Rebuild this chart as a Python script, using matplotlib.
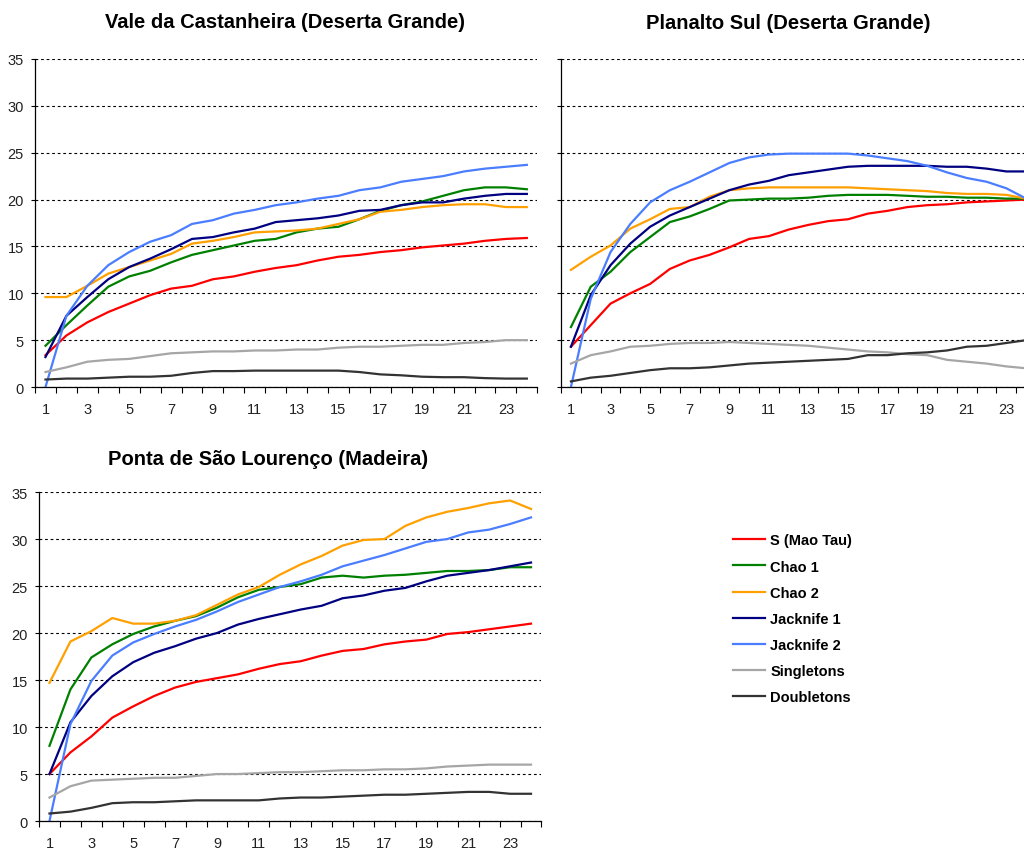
import numpy as np
import matplotlib.pyplot as plt

plt.rcParams['font.family'] = ['Liberation Sans', 'DejaVu Sans']

samples = np.arange(1, 25)

series_names = ["S (Mao Tau)", "Chao 1", "Chao 2", "Jacknife 1", "Jacknife 2",
                "Singletons", "Doubletons"]
series_colors = ["#ff0000", "#008000", "#ffa000", "#000080", "#4a7dff",
                 "#a6a6a6", "#333333"]

# Vale da Castanheira (Deserta Grande)
vc_s = [3.4, 5.5, 6.9, 8.0, 8.9, 9.8, 10.5, 10.8, 11.5, 11.8, 12.3, 12.7,
        13.0, 13.5, 13.9, 14.1, 14.4, 14.6, 14.9, 15.1, 15.3, 15.6, 15.8, 15.9]
vc_chao1 = [4.4, 6.6, 8.7, 10.7, 11.8, 12.4, 13.3, 14.1, 14.6, 15.1, 15.6, 15.8,
            16.5, 16.9, 17.1, 17.9, 18.8, 19.4, 19.8, 20.4, 21.0, 21.3, 21.3, 21.1]
vc_chao2 = [9.6, 9.6, 10.8, 12.1, 12.8, 13.5, 14.2, 15.3, 15.6, 16.0, 16.5, 16.6,
            16.7, 16.9, 17.4, 17.9, 18.7, 18.9, 19.2, 19.4, 19.5, 19.5, 19.2, 19.2]
vc_jack1 = [3.2, 7.6, 9.6, 11.5, 12.8, 13.7, 14.7, 15.8, 16.0, 16.5, 16.9, 17.6,
            17.8, 18.0, 18.3, 18.8, 18.9, 19.4, 19.7, 19.7, 20.1, 20.4, 20.6, 20.6]
vc_jack2 = [0.0, 7.6, 10.8, 13.0, 14.4, 15.5, 16.2, 17.4, 17.8, 18.5, 18.9, 19.4,
            19.7, 20.1, 20.4, 21.0, 21.3, 21.9, 22.2, 22.5, 23.0, 23.3, 23.5, 23.7]
vc_single = [1.6, 2.1, 2.7, 2.9, 3.0, 3.3, 3.6, 3.7, 3.8, 3.8, 3.9, 3.9,
             4.0, 4.0, 4.2, 4.3, 4.3, 4.4, 4.5, 4.5, 4.7, 4.8, 5.0, 5.0]
vc_double = [0.8, 0.9, 0.9, 1.0, 1.1, 1.1, 1.2, 1.5, 1.7, 1.7, 1.75, 1.75,
             1.75, 1.75, 1.75, 1.6, 1.35, 1.25, 1.1, 1.05, 1.05, 0.95, 0.9, 0.9]

# Planalto Sul (Deserta Grande)
ps_s = [4.3, 6.6, 8.9, 10.0, 11.0, 12.6, 13.5, 14.1, 14.9, 15.8, 16.1, 16.8,
        17.3, 17.7, 17.9, 18.5, 18.8, 19.2, 19.4, 19.5, 19.7, 19.8, 19.9, 20.0]
ps_chao1 = [6.4, 10.7, 12.3, 14.4, 16.0, 17.6, 18.2, 19.0, 19.9, 20.0, 20.1, 20.1,
            20.2, 20.4, 20.5, 20.5, 20.5, 20.4, 20.3, 20.3, 20.2, 20.2, 20.1, 20.1]
ps_chao2 = [12.5, 13.9, 15.1, 16.9, 17.9, 19.0, 19.2, 20.3, 21.0, 21.2, 21.3, 21.3,
            21.3, 21.3, 21.3, 21.2, 21.1, 21.0, 20.9, 20.7, 20.6, 20.6, 20.5, 20.1]
ps_jack1 = [4.3, 9.8, 13.0, 15.3, 17.1, 18.3, 19.2, 20.1, 21.0, 21.6, 22.0, 22.6,
            22.9, 23.2, 23.5, 23.6, 23.6, 23.6, 23.6, 23.5, 23.5, 23.3, 23.0, 23.0]
ps_jack2 = [0.0, 9.4, 14.4, 17.4, 19.7, 21.0, 21.9, 22.9, 23.9, 24.5, 24.8, 24.9,
            24.9, 24.9, 24.9, 24.7, 24.4, 24.1, 23.6, 22.9, 22.3, 21.9, 21.2, 20.1]
ps_single = [2.5, 3.4, 3.8, 4.3, 4.4, 4.6, 4.7, 4.7, 4.8, 4.7, 4.6, 4.5,
             4.4, 4.2, 4.0, 3.8, 3.7, 3.5, 3.4, 2.9, 2.7, 2.5, 2.2, 2.0]
ps_double = [0.6, 1.0, 1.2, 1.5, 1.8, 2.0, 2.0, 2.1, 2.3, 2.5, 2.6, 2.7,
             2.8, 2.9, 3.0, 3.4, 3.4, 3.6, 3.7, 3.9, 4.3, 4.4, 4.7, 5.0]

# Ponta de São Lourenço (Madeira)
sl_s = [5.0, 7.3, 9.0, 11.0, 12.2, 13.3, 14.2, 14.8, 15.2, 15.6, 16.2, 16.7,
        17.0, 17.6, 18.1, 18.3, 18.8, 19.1, 19.3, 19.9, 20.1, 20.4, 20.7, 21.0]
sl_chao1 = [8.0, 14.0, 17.4, 18.8, 19.9, 20.7, 21.3, 21.8, 22.7, 23.8, 24.6, 24.9,
            25.2, 25.9, 26.1, 25.9, 26.1, 26.2, 26.4, 26.6, 26.6, 26.7, 27.0, 27.0]
sl_chao2 = [14.7, 19.1, 20.2, 21.6, 21.0, 21.0, 21.3, 21.9, 23.0, 24.1, 24.9, 26.2,
            27.3, 28.2, 29.3, 29.9, 30.0, 31.4, 32.3, 32.9, 33.3, 33.8, 34.1, 33.2]
sl_jack1 = [5.0, 10.5, 13.3, 15.4, 16.9, 17.9, 18.6, 19.4, 20.0, 20.9, 21.5, 22.0,
            22.5, 22.9, 23.7, 24.0, 24.5, 24.8, 25.5, 26.1, 26.4, 26.7, 27.1, 27.5]
sl_jack2 = [0.0, 10.3, 14.9, 17.6, 19.0, 19.9, 20.7, 21.4, 22.3, 23.3, 24.1, 24.9,
            25.5, 26.2, 27.1, 27.7, 28.3, 29.0, 29.7, 30.0, 30.7, 31.0, 31.6, 32.3]
sl_single = [2.5, 3.7, 4.3, 4.4, 4.5, 4.6, 4.6, 4.8, 5.0, 5.0, 5.1, 5.2,
             5.2, 5.3, 5.4, 5.4, 5.5, 5.5, 5.6, 5.8, 5.9, 6.0, 6.0, 6.0]
sl_double = [0.8, 1.0, 1.4, 1.9, 2.0, 2.0, 2.1, 2.2, 2.2, 2.2, 2.2, 2.4,
             2.5, 2.5, 2.6, 2.7, 2.8, 2.8, 2.9, 3.0, 3.1, 3.1, 2.9, 2.9]

panels = [
    ("Vale da Castanheira (Deserta Grande)",
     [vc_s, vc_chao1, vc_chao2, vc_jack1, vc_jack2, vc_single, vc_double]),
    ("Planalto Sul (Deserta Grande)",
     [ps_s, ps_chao1, ps_chao2, ps_jack1, ps_jack2, ps_single, ps_double]),
    ("Ponta de São Lourenço (Madeira)",
     [sl_s, sl_chao1, sl_chao2, sl_jack1, sl_jack2, sl_single, sl_double]),
]

# axes boxes in figure fractions, title centres, whether y labels are drawn
boxes = [[0.0342, 0.5451, 0.4905, 0.3846],
         [0.5479, 0.5451, 0.4639, 0.3846],
         [0.0381, 0.0363, 0.4907, 0.3857]]
title_pos = [(0.2785, 0.974), (0.7695, 0.972), (0.2617, 0.461)]
show_ylabels = [True, False, True]

fig = plt.figure(figsize=(10.24, 8.53), dpi=100)

for (title, data), box, tpos, ylab in zip(panels, boxes, title_pos, show_ylabels):
    ax = fig.add_axes(box)
    for vals, name, col in zip(data, series_names, series_colors):
        ax.plot(samples, vals, color=col, lw=1.6, label=name)
    ax.set_xlim(0.5, 24.5)
    ax.set_ylim(0, 35)
    ax.set_yticks(np.arange(0, 36, 5))
    ax.set_xticks(samples[::2])
    ax.set_xticks(np.arange(0.5, 25, 1), minor=True)
    ax.tick_params(axis='x', which='major', length=0, pad=11, labelsize=10.5,
                   labelcolor='#222222')
    ax.tick_params(axis='x', which='minor', length=4, width=0.8, direction='out')
    ax.tick_params(axis='y', length=3, width=0.8, pad=5, labelsize=10.5,
                   labelcolor='#222222', labelleft=ylab)
    ax.yaxis.grid(True, color='black', linestyle=(0, (2.5, 2.5)), lw=0.8)
    ax.set_axisbelow(True)
    for side in ('top', 'right'):
        ax.spines[side].set_visible(False)
    for side in ('left', 'bottom'):
        ax.spines[side].set_linewidth(0.9)
    fig.text(tpos[0], tpos[1], title, ha='center', va='center',
             fontsize=14.5, fontweight='bold')

handles, labels = ax.get_legend_handles_labels()
fig.legend(handles, labels, loc='upper left', bbox_to_anchor=(0.7158, 0.3735),
           frameon=False, borderpad=0, borderaxespad=0, handlelength=2.2,
           handletextpad=0.35, labelspacing=0.83,
           prop={'size': 10.5, 'weight': 'bold'})

fig.savefig("out.png", dpi=100)
